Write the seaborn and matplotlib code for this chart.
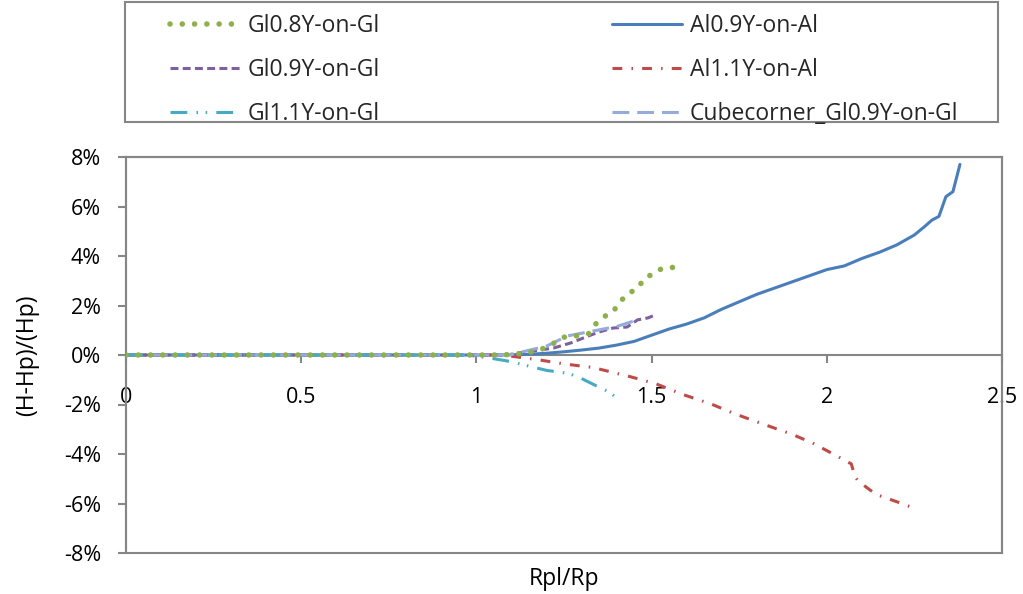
import numpy as np
import pandas as pd
import matplotlib
matplotlib.use("Agg")
import matplotlib.pyplot as plt
from matplotlib.patches import Rectangle
from matplotlib.ticker import FuncFormatter
import seaborn as sns

# Relative height error (H-Hp)/Hp in percent, versus radius ratio Rpl/Rp
flat_x = [0.0, 0.25, 0.5, 0.75, 0.95]

al09_x = flat_x + [1.05, 1.10, 1.15, 1.20, 1.25, 1.30, 1.35, 1.40, 1.45, 1.50,
                   1.55, 1.60, 1.65, 1.70, 1.75, 1.80, 1.85, 1.90, 1.95, 2.00,
                   2.05, 2.10, 2.15, 2.20, 2.25, 2.28, 2.30, 2.32, 2.34, 2.36, 2.38]
al09_y = [0, 0, 0, 0, 0] + [0.0, 0.01, 0.03, 0.07, 0.13, 0.20, 0.28, 0.40, 0.55, 0.80,
                            1.05, 1.25, 1.50, 1.85, 2.15, 2.45, 2.70, 2.95, 3.20, 3.45,
                            3.60, 3.90, 4.15, 4.45, 4.85, 5.20, 5.45, 5.60, 6.40, 6.60, 7.70]

al11_x = flat_x + [1.05, 1.09, 1.18, 1.25, 1.33, 1.36, 1.44, 1.51, 1.59, 1.67,
                   1.74, 1.82, 1.90, 1.96, 2.03, 2.07, 2.08, 2.09, 2.14, 2.22, 2.25]
al11_y = [0, 0, 0, 0, 0] + [0.0, -0.03, -0.20, -0.36, -0.50, -0.60, -0.88, -1.15, -1.60, -1.98,
                            -2.39, -2.80, -3.20, -3.56, -4.09, -4.40, -4.90, -5.10, -5.63, -6.03, -6.20]

gl08_x = flat_x + [1.05, 1.10, 1.15, 1.20, 1.25, 1.29, 1.32, 1.34, 1.37, 1.39,
                   1.41, 1.43, 1.46, 1.48, 1.50, 1.53, 1.57]
gl08_y = [0, 0, 0, 0, 0] + [0.0, 0.02, 0.10, 0.30, 0.72, 0.78, 0.86, 1.25, 1.60, 1.75,
                            2.15, 2.45, 2.70, 3.10, 3.25, 3.50, 3.55]

gl09_x = flat_x + [1.05, 1.09, 1.14, 1.22, 1.27, 1.32, 1.35, 1.39, 1.43, 1.46, 1.49, 1.51]
gl09_y = [0, 0, 0, 0, 0] + [0.0, 0.01, 0.12, 0.28, 0.49, 0.77, 0.93, 1.09, 1.13, 1.42, 1.50, 1.62]

gl11_x = flat_x + [1.00, 1.05, 1.10, 1.15, 1.20, 1.25, 1.27, 1.30, 1.35, 1.38, 1.41]
gl11_y = [0, 0, 0, 0, 0] + [-0.05, -0.15, -0.27, -0.45, -0.62, -0.72, -0.78, -0.95, -1.30, -1.50, -1.85]

cube_x = flat_x + [1.05, 1.10, 1.20, 1.26, 1.30, 1.40, 1.46]
cube_y = [0, 0, 0, 0, 0] + [0.0, 0.02, 0.36, 0.77, 0.88, 1.15, 1.42]

x_ticks = [0, 0.5, 1, 1.5, 2, 2.5]
y_ticks = [-8, -6, -4, -2, 0, 2, 4, 6, 8]

sns.set_theme(style="white")
plt.rcParams["font.family"] = ["Open Sans", "DejaVu Sans"]
FS_TICK = 15.5
FS_TEXT = 16.5

fig = plt.figure(figsize=(10.23, 5.94), dpi=100)
ax = fig.add_axes([126 / 1023, 41 / 594, 876 / 1023, 396 / 594])

GREY = "#868686"
series = [
    ("Al0.9Y-on-Al", al09_x, al09_y, "#4A7EBB", "-", 2.2, {}),
    ("Al1.1Y-on-Al", al11_x, al11_y, "#BE4B48", (0, (3.2, 3.0, 0.5, 3.0)), 2.2, {}),
    ("Gl0.9Y-on-Gl", gl09_x, gl09_y, "#7D60A0", (0, (2.6, 1.4)), 2.2, {}),
    ("Cubecorner_Gl0.9Y-on-Gl", cube_x, cube_y, "#95ABDA", (0, (5.5, 2.6)), 2.2, {}),
    ("Gl1.1Y-on-Gl", gl11_x, gl11_y, "#46AAC5", (0, (5.5, 3.0, 0.5, 2.5, 0.5, 3.0)), 2.2, {}),
    ("Gl0.8Y-on-Gl", gl08_x, gl08_y, "#8EB04A", (0, (0.01, 2.2)), 4.0,
     {"dash_capstyle": "round"}),
]

handles = {}
for name, xs, ys, color, ls, lw, extra in series:
    df = pd.DataFrame({"x": xs, "y": ys})
    sns.lineplot(data=df, x="x", y="y", ax=ax, color=color, linestyle=ls,
                 linewidth=lw, sort=False, estimator=None, zorder=3, **extra)
    handles[name] = ax.lines[-1]

ax.set_xlim(0, 2.5)
ax.set_ylim(-8, 8)
ax.set_xticks(x_ticks)
ax.set_yticks(y_ticks)
ax.xaxis.set_major_formatter(FuncFormatter(lambda v, p: f"{v:g}"))
ax.yaxis.set_major_formatter(FuncFormatter(lambda v, p: f"{v:.0f}%"))

# Horizontal axis crosses at zero; plot area keeps a grey frame
for side in ["top", "right", "left"]:
    ax.spines[side].set_color(GREY)
    ax.spines[side].set_linewidth(1.5)
ax.spines["bottom"].set_position(("data", 0))
ax.spines["bottom"].set_color(GREY)
ax.spines["bottom"].set_linewidth(1.5)
ax.spines["bottom"].set_zorder(1)
ax.add_patch(Rectangle((0, 0), 1, 1, transform=ax.transAxes, fill=False,
                       edgecolor=GREY, linewidth=1.5, zorder=1, clip_on=False))

ax.tick_params(axis="x", direction="out", length=6, width=1.5, color=GREY,
               pad=17, labelsize=FS_TICK, labelcolor="black", bottom=True)
ax.tick_params(axis="y", direction="out", length=6, width=1.5, color=GREY,
               pad=12, labelsize=FS_TICK, labelcolor="black", left=True)

ax.set_xlabel("Rpl/Rp", fontsize=FS_TEXT, color="black")
ax.xaxis.set_label_coords(0.5, -0.035)
ax.set_ylabel("(H-Hp)/(Hp)", fontsize=FS_TEXT, color="black", labelpad=18)

# Two legend columns inside one grey box
columns = [
    (["Gl0.8Y-on-Gl", "Gl0.9Y-on-Gl", "Gl1.1Y-on-Gl"], 170),
    (["Al0.9Y-on-Al", "Al1.1Y-on-Al", "Cubecorner_Gl0.9Y-on-Gl"], 612),
]
for names, left_px in columns:
    fig.legend([handles[n] for n in names], names, ncol=1, frameon=False,
               loc="upper left", bbox_to_anchor=(left_px / 1023, 1 - 14 / 594),
               fontsize=FS_TEXT, handlelength=3.05, handletextpad=0.35,
               labelspacing=0.88, borderpad=0, borderaxespad=0)
fig.patches.append(Rectangle((125 / 1023, 1 - 122 / 594), 873 / 1023, 120 / 594,
                             transform=fig.transFigure, fill=False,
                             edgecolor=GREY, linewidth=1.5))

fig.savefig("out.png", dpi=100)
